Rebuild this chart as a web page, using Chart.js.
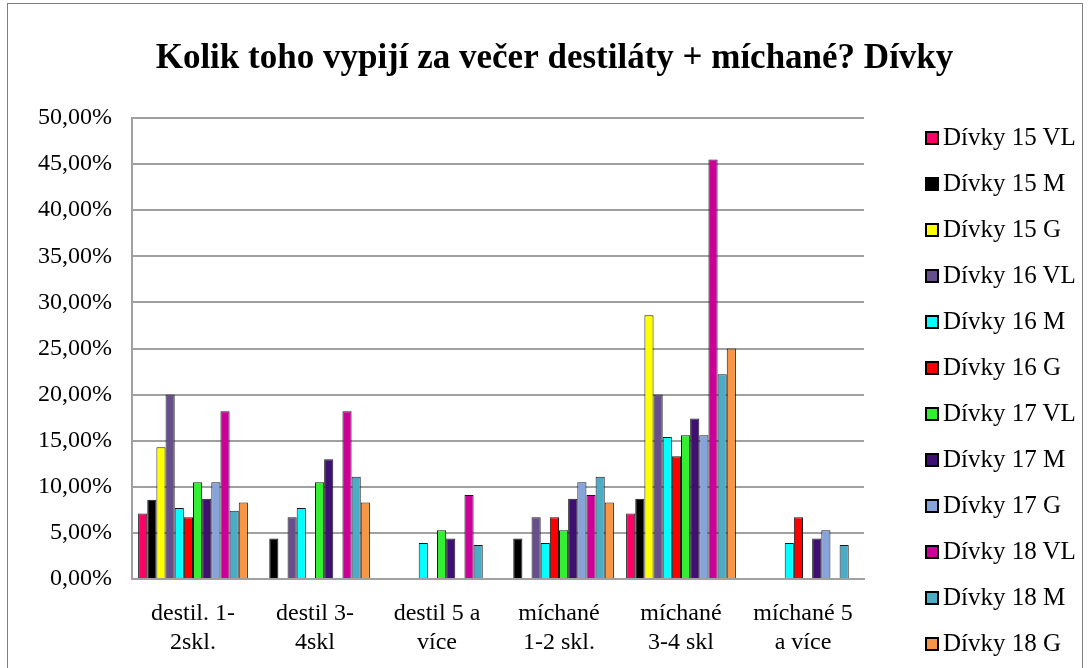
<!DOCTYPE html>
<html>
<head>
<meta charset="utf-8">
<script src="https://cdn.jsdelivr.net/npm/chart.js@4"></script>
<style>
  body { margin: 0; background: #fff; }
  #wrap { position: relative; width: 1089px; height: 668px; overflow: hidden; }
  #frame { position: absolute; left: 7px; top: 3px; width: 1074px; height: 680px; border: 1px solid #808080; }
  #legend { position: absolute; left: 0; top: 0; font-family: 'Liberation Serif', 'Times New Roman', serif; font-size: 25px; color: #000; }
  .item { position: absolute; left: 925px; height: 24px; line-height: 24px; white-space: nowrap; }
  .box { position: absolute; left: 0; top: 6px; width: 10px; height: 10px; border: 2px solid #000; }
  .item span { position: absolute; left: 18px; top: 0; }
</style>
</head>
<body>
<div id="wrap">
  <canvas id="myChart" width="1089" height="668"></canvas>
  <div id="frame"></div>
  <div id="legend"></div>
</div>
<script>
const ctx = document.getElementById('myChart');

const categories = [
    ['destil. 1-', '2skl.'],
    ['destil 3-', '4skl'],
    ['destil 5 a', 'více'],
    ['míchané', '1-2 skl.'],
    ['míchané', '3-4 skl'],
    ['míchané 5', 'a více']
];

const seriesNames = [
    'Dívky 15 VL', 'Dívky 15 M', 'Dívky 15 G',
    'Dívky 16 VL', 'Dívky 16 M', 'Dívky 16 G',
    'Dívky 17 VL', 'Dívky 17 M', 'Dívky 17 G',
    'Dívky 18 VL', 'Dívky 18 M', 'Dívky 18 G'
];

// values in percent, one array per series
const divky15VL = [7.1, 0, 0, 0, 7.1, 0];
const divky15M = [8.6, 4.4, 0, 4.4, 8.7, 0];
const divky15G = [14.3, 0, 0, 0, 28.6, 0];
const divky16VL = [20.0, 6.7, 0, 6.7, 20.0, 0];
const divky16M = [7.7, 7.7, 3.9, 3.9, 15.4, 3.9];
const divky16G = [6.7, 0, 0, 6.7, 13.3, 6.7];
const divky17VL = [10.5, 10.5, 5.3, 5.3, 15.6, 0];
const divky17M = [8.7, 13.0, 4.4, 8.7, 17.4, 4.4];
const divky17G = [10.5, 0, 0, 10.5, 15.6, 5.3];
const divky18VL = [18.2, 18.2, 9.1, 9.1, 45.5, 0];
const divky18M = [7.4, 11.1, 3.7, 11.1, 22.2, 3.7];
const divky18G = [8.3, 8.3, 0, 8.3, 25.0, 0];

const seriesValues = [
    divky15VL, divky15M, divky15G,
    divky16VL, divky16M, divky16G,
    divky17VL, divky17M, divky17G,
    divky18VL, divky18M, divky18G
];

const yTicks = [0, 5, 10, 15, 20, 25, 30, 35, 40, 45, 50];

const colors = [
    '#ff0066', '#000000', '#ffff00',
    '#664f8a', '#00ffff', '#ff0000',
    '#33ee33', '#3f1072', '#86a3da',
    '#cc0099', '#4bacc6', '#f79646'
];

const font = "'Liberation Serif', 'Times New Roman', serif";

// legend drawn as html next to the chart
const legend = document.getElementById('legend');
seriesNames.forEach((name, i) => {
    const item = document.createElement('div');
    item.className = 'item';
    item.style.top = (125 + i * 46) + 'px';
    item.innerHTML = '<div class="box" style="background:' + colors[i] + '"></div><span>' + name + '</span>';
    legend.appendChild(item);
});

new Chart(ctx, {
    type: 'bar',
    data: {
        labels: categories,
        datasets: seriesNames.map((name, i) => ({
            label: name,
            data: seriesValues[i],
            backgroundColor: colors[i],
            borderColor: '#1a1a1a',
            borderWidth: 1,
            categoryPercentage: 0.9,
            barPercentage: 1.0
        }))
    },
    options: {
        responsive: false,
        animation: false,
        layout: {
            padding: { left: 20, right: 0, top: 0, bottom: 0 }
        },
        plugins: {
            legend: { display: false },
            tooltip: { enabled: false },
            title: {
                display: true,
                text: 'Kolik toho vypijí za večer destiláty + míchané? Dívky',
                color: '#000',
                font: { family: font, size: 35, weight: 'bold' },
                padding: { top: 38, bottom: 38 }
            }
        },
        scales: {
            x: {
                grid: { display: false },
                border: { color: '#a0a0a0', width: 2 },
                ticks: {
                    color: '#000',
                    font: { family: font, size: 24, lineHeight: 1.22 },
                    padding: 12,
                    maxRotation: 0,
                    autoSkip: false
                },
                afterFit: scale => { scale.height = 89; }
            },
            y: {
                min: 0,
                max: 50,
                afterBuildTicks: scale => { scale.ticks = yTicks.map(v => ({ value: v })); },
                grid: { color: '#a0a0a0', lineWidth: 2, drawTicks: false },
                border: { color: '#a0a0a0', width: 2 },
                ticks: {
                    color: '#000',
                    font: { family: font, size: 24 },
                    padding: 20,
                    callback: v => v.toFixed(2).replace('.', ',') + '%'
                },
                afterFit: scale => { scale.width = 112; }
            },
            y2: {
                position: 'right',
                grid: { display: false },
                border: { display: false },
                ticks: { display: false },
                afterFit: scale => { scale.width = 225; }
            }
        }
    }
});
</script>
</body>
</html>
